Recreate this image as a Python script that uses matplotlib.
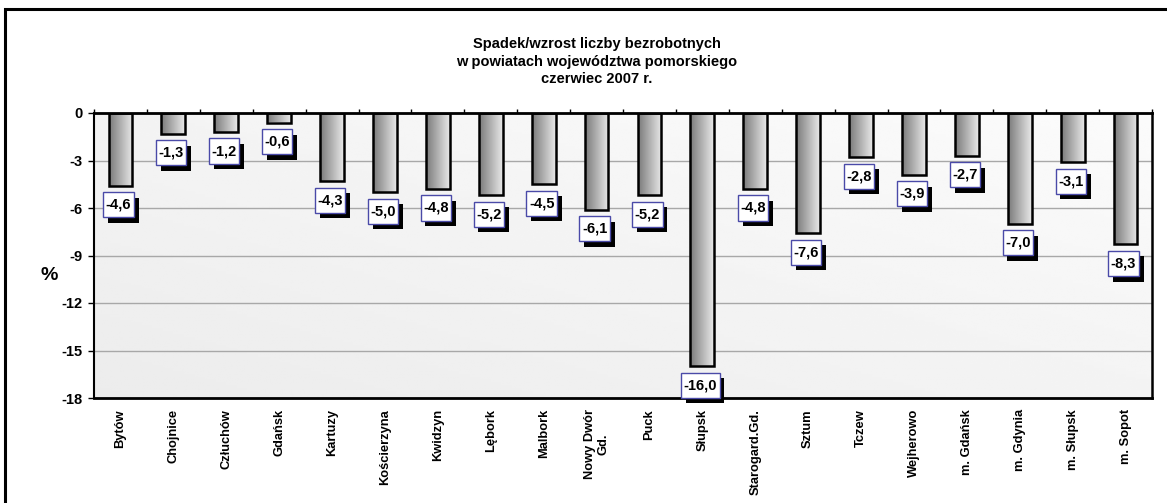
import numpy as np
import matplotlib
matplotlib.use("Agg")
import matplotlib.pyplot as plt
from matplotlib.patches import Rectangle
from matplotlib.path import Path
import matplotlib.patheffects as pe

plt.rcParams['font.family'] = ['Liberation Sans', 'DejaVu Sans']

categories = ["Bytów", "Chojnice", "Człuchów", "Gdańsk", "Kartuzy", "Kościerzyna",
              "Kwidzyn", "Lębork", "Malbork", "Nowy Dwór\nGd.", "Puck", "Słupsk",
              "Starogard.Gd.", "Sztum", "Tczew", "Wejherowo", "m. Gdańsk",
              "m. Gdynia", "m. Słupsk", "m. Sopot"]
values = [-4.6, -1.3, -1.2, -0.6, -4.3, -5.0, -4.8, -5.2, -4.5, -6.1, -5.2, -16.0,
          -4.8, -7.6, -2.8, -3.9, -2.7, -7.0, -3.1, -8.3]
yticks = [0, -3, -6, -9, -12, -15, -18]
title = "Spadek/wzrost liczby bezrobotnych\nw powiatach województwa pomorskiego\nczerwiec 2007 r."

W, H = 1167, 503
fig = plt.figure(figsize=(W / 100, H / 100), dpi=100)
fig.patch.set_facecolor('white')

# outer frame
fig.add_artist(Rectangle((5 / W, -0.1), 1.2, 1 - 9 / H + 0.1, transform=fig.transFigure,
                         fill=False, edgecolor='black', linewidth=2.2, clip_on=False))

ax = fig.add_axes([94 / W, 1 - 398 / H, (1152 - 94) / W, (398 - 113) / H])
n = len(categories)
x = np.arange(n)
ax.set_xlim(-0.5, n - 0.5)
ax.set_ylim(-18, 0)

# background gradient
gy, gx = np.mgrid[0:1:100j, 0:1:100j]
bg = 0.925 + 0.06 * (0.5 * gx + 0.5 * (1 - gy))
ax.imshow(bg, extent=(-0.5, n - 0.5, -18, 0), cmap='gray', vmin=0, vmax=1,
          aspect='auto', origin='upper', zorder=0, interpolation='bilinear')

ax.set_yticks(yticks)
ax.set_yticklabels([str(v) for v in yticks], fontsize=10.5, fontweight='bold')
ax.yaxis.grid(True, color='#a8a8a8', linewidth=1)
ax.set_axisbelow(True)

bars = ax.bar(x, values, width=0.45, color='none', edgecolor='black', linewidth=1.8, zorder=3)
grad = np.linspace(0.48, 0.91, 64).reshape(1, -1)
for b in bars:
    x0, y0 = b.get_x(), b.get_y()
    w, h = b.get_width(), b.get_height()
    im = ax.imshow(grad, extent=(x0, x0 + w, y0 + h, y0), cmap='gray', vmin=0, vmax=1,
                   aspect='auto', zorder=2, interpolation='bilinear')
    im.set_clip_path(b)


def label_box(x0, y0, width, height, mutation_size):
    px = 0.17 * mutation_size
    py = 0.38 * mutation_size
    xa, xb = x0 - px, x0 + width + px
    ya, yb = y0 - py, y0 + height + py
    return Path([(xa, ya), (xb, ya), (xb, yb), (xa, yb), (xa, ya)], closed=True)


for xi, v in zip(x, values):
    t = ax.annotate(f"{v:.1f}".replace('.', ','), xy=(xi, v), xytext=(-2, -19),
                    textcoords='offset pixels',
                    ha='center', va='center', fontsize=10.5, fontweight='bold', zorder=5,
                    bbox=dict(boxstyle=label_box, facecolor='white',
                              edgecolor='#4a4aa8', linewidth=1))
    t.get_bbox_patch().set_path_effects([
        pe.SimplePatchShadow(offset=(3.5, -4), shadow_rgbFace='black', alpha=1.0),
        pe.Normal()])

ax.set_xticks(x)
ax.set_xticklabels(categories, rotation=90, fontsize=9.3, fontweight='bold',
                   ha='center', va='top', multialignment='center', linespacing=1.15)
ax.tick_params(axis='x', length=0, pad=8)
ax.tick_params(axis='y', length=4, width=1, direction='out', pad=4)
# boundary ticks on top axis line
sec = ax.secondary_xaxis('top')
sec.set_xticks(np.arange(n + 1) - 0.5)
sec.set_xticklabels([])
sec.tick_params(length=3, width=1, direction='out')
sec.spines['top'].set_visible(False)

for s in ['left', 'right', 'top', 'bottom']:
    ax.spines[s].set_color('black')
ax.spines['left'].set_linewidth(1.5)
ax.spines['right'].set_linewidth(1.8)
ax.spines['top'].set_linewidth(2)
ax.spines['bottom'].set_linewidth(2)

ax.set_ylabel('%', rotation=0, fontsize=14, fontweight='bold', va='center')
ax.yaxis.set_label_coords(-0.042, 0.43)

fig.text(597 / W, 1 - 61.5 / H, title, ha='center', va='center', fontsize=10.5,
         fontweight='bold', linespacing=1.35)

fig.savefig('out.png', dpi=100)
